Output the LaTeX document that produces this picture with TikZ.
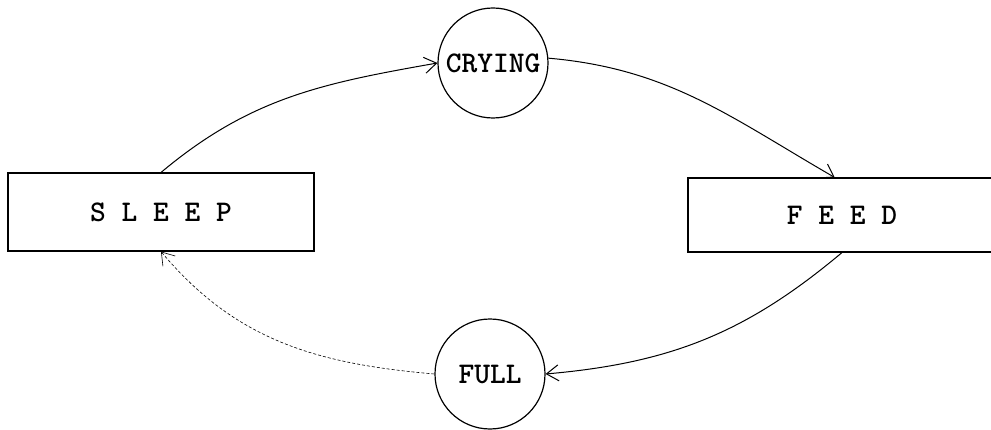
\documentclass[tikz,border=0pt]{standalone}
\usetikzlibrary{arrows.meta}
\tikzset{
  statebox/.style={draw, line width=1.1pt, inner sep=0pt},
  statering/.style={draw, circle, line width=1.2pt, minimum size=110pt, inner sep=0pt},
  flow/.style={line width=1pt, -{Straight Barb[length=12pt,width=16pt]}},
  faintflow/.style={flow, line width=0.6pt, dash pattern=on 3pt off 2pt}
}
\begin{document}
\begin{tikzpicture}[x=1pt, y=1pt, font=\ttfamily\bfseries\fontsize{30}{30}\selectfont]
        \useasboundingbox (0,0) rectangle (991,429);
        \node[statebox, minimum width=306pt, minimum height=78pt] (sleep)
        at (161,217) {S L E E P\hspace{30pt}}; \node[statebox, minimum
        width=308pt, minimum height=74pt] (feed) at (842,214) {F E E
        D\hspace{14pt}}; \node[statering] (crying) at (493,366) {CRYING};
        \node[statering] (full) at (490,55) {FULL};
        \draw[flow] (sleep.north) to[out=40, in=190] (crying.west);
        \draw[flow] (crying.5) to[out=-5, in=150] (feed.101);
        \draw[flow] (feed.south) to[out=220, in=5] (full.east);
        \draw[faintflow] (full.west) to[out=175, in=-50] (sleep.south);
      \end{tikzpicture}
\end{document}
